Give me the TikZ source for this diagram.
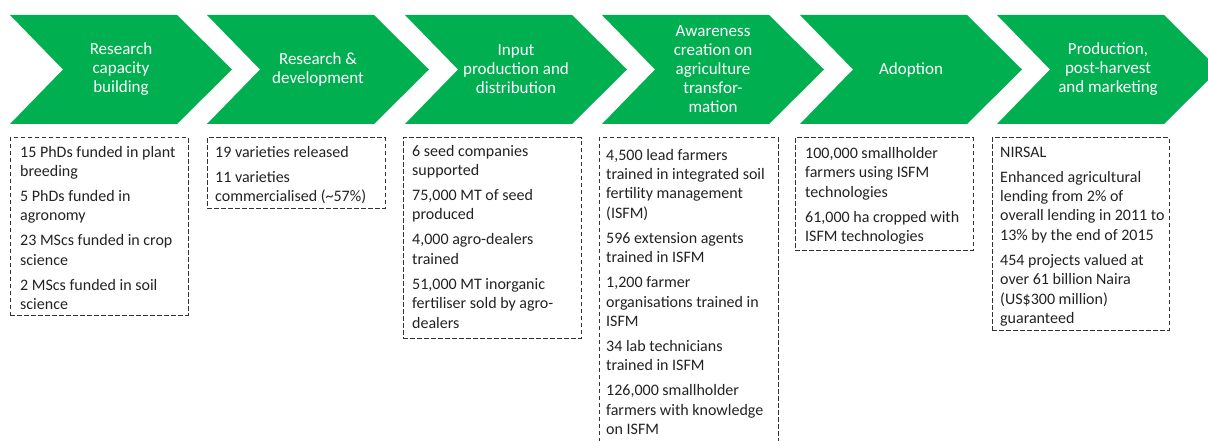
\documentclass[tikz,border=0pt]{standalone}
\usepackage{fontspec}
\setmainfont{Carlito}
\definecolor{chev}{HTML}{00B050}
\definecolor{boxline}{HTML}{333333}
\definecolor{boxtext}{HTML}{222222}
\tikzset{
  chevtext/.style={text=white, align=center, inner sep=0pt, font=\fontsize{17}{19}\selectfont},
  dbox/.style={draw=boxline, line width=0.9pt, dash pattern=on 4.5pt off 2.5pt, inner sep=0pt, anchor=north west},
  btext/.style={text=boxtext, align=left, inner sep=0pt, anchor=north west, font=\fontsize{16}{19.4}\selectfont},
}
\newcommand{\pgap}{\\[5.6pt]}
\begin{document}
\begin{tikzpicture}[x=1pt,y=-1pt]
\useasboundingbox (0,0) rectangle (1208,441);
% chevrons
\foreach \l in {10,207,405,602,800,997}{
  \fill[chev] (\l,15) -- ++(167,0) -- ++(55,54.5) -- ++(-55,54.5) -- ++(-167,0) -- ++(53,-54.5) -- cycle;
}
\node[chevtext] (c1) at (121,69.5) {Research\\capacity\\building};
\node[chevtext] (c2) at (318,69.5) {Research \&\\development};
\node[chevtext] (c3) at (516,69.5) {Input\\production and\\distribution};
\node[chevtext] (c4) at (713,69.5) {Awareness\\creation on\\agriculture\\transfor-\\mation};
\node[chevtext] (c5) at (911,69.5) {Adoption};
\node[chevtext] (c6) at (1108,69.5) {Production,\\post-harvest\\and marketing};
% boxes
\node[dbox, minimum width=178pt, minimum height=177pt] (b1) at (10,137.5) {};
\node[dbox, minimum width=178pt, minimum height=70.5pt] (b2) at (207,137.5) {};
\node[dbox, minimum width=178pt, minimum height=200.5pt] (b3) at (403,137.5) {};
\node[dbox, minimum width=179pt, minimum height=322pt] (b4) at (599,137.5) {};
\node[dbox, minimum width=178pt, minimum height=112.5pt] (b5) at (795,137.5) {};
\node[dbox, minimum width=177pt, minimum height=192.5pt] (b6) at (992,137.5) {};
% box texts (top = first baseline - 13.58)
\node[btext] (t1) at (20,143.4) {\strut 15 PhDs funded in plant\\breeding\pgap 5 PhDs funded in\\agronomy\pgap 23 MScs funded in crop\\science\pgap 2 MScs funded in soil\\science};
\node[btext] (t2) at (215,143.4) {\strut 19 varieties released\pgap 11 varieties\\commercialised (\textasciitilde 57\%)};
\node[btext] (t3) at (412,142.4) {\strut 6 seed companies\\supported\pgap 75,000 MT of seed\\produced\pgap 4,000 agro-dealers\\trained\pgap 51,000 MT inorganic\\fertiliser sold by agro-\\dealers};
\node[btext] (t4) at (606,146.4) {\strut 4,500 lead farmers\\trained in integrated soil\\fertility management\\(ISFM)\pgap 596 extension agents\\trained in ISFM\pgap 1,200 farmer\\organisations trained in\\ISFM\pgap 34 lab technicians\\trained in ISFM\pgap 126,000 smallholder\\farmers with knowledge\\on ISFM};
\node[btext] (t5) at (805,144.7) {\strut 100,000 smallholder\\farmers using ISFM\\technologies\pgap 61,000 ha cropped with\\ISFM technologies};
\node[btext] (t6) at (1000,143.4) {\strut NIRSAL\pgap Enhanced agricultural\\lending from 2\% of\\overall lending in 2011 to\\13\% by the end of 2015\pgap 454 projects valued at\\over 61 billion Naira\\(US\$300 million)\\guaranteed};
\end{tikzpicture}
\end{document}
